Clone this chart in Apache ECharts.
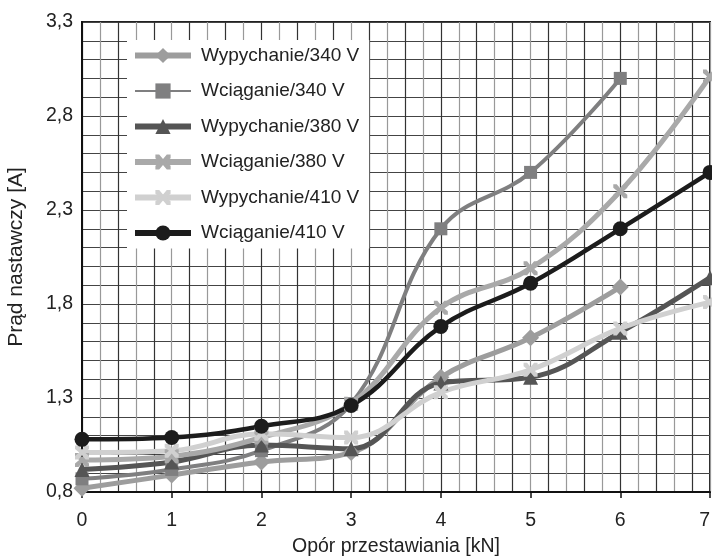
<!DOCTYPE html>
<html>
<head>
<meta charset="utf-8">
<script src="https://cdn.jsdelivr.net/npm/echarts@6/dist/echarts.min.js"></script>
<style>
html,body{margin:0;padding:0;background:#fff;}
#chart{width:712px;height:557px;}
</style>
</head>
<body>
<div id="chart"></div>
<script>
// opór przestawiania [kN]
var xVals = [0, 1, 2, 3, 4, 5, 6, 7];
var names = ['Wypychanie/340 V', 'Wciąganie/340 V', 'Wypychanie/380 V', 'Wciąganie/380 V', 'Wypychanie/410 V', 'Wciąganie/410 V'];
// prąd nastawczy [A]
var wyp340 = [0.82, 0.89, 0.96, 1.01, 1.41, 1.62, 1.89];
var wc340 = [0.87, 0.92, 1.02, 1.27, 2.20, 2.50, 3.00];
var wyp380 = [0.92, 0.96, 1.05, 1.03, 1.38, 1.41, 1.65, 1.94];
var wc380 = [0.97, 0.99, 1.09, 1.27, 1.78, 1.99, 2.40, 3.01];
var wyp410 = [1.01, 1.02, 1.11, 1.09, 1.33, 1.45, 1.67, 1.81];
var wc410 = [1.08, 1.09, 1.15, 1.26, 1.68, 1.91, 2.20, 2.50];

var xSym = 'path://M0,0 L2.5,0 L5,3 L7.5,0 L10,0 L10,2.5 L7,5 L10,7.5 L10,10 L7.5,10 L5,7 L2.5,10 L0,10 L0,7.5 L3,5 L0,2.5 Z';
var font = 'Liberation Sans';
var colors = ['#9d9d9d', '#7f7f80', '#555555', '#a9a9a9', '#d0d0d0', '#1c1c1c'];

function pairs(arr){
	var out = [];
	for(var i=0;i<arr.length;i++){
		out.push([xVals[i], arr[i]]);
	}
	return out;
}

function line(name, arr, color, width, symbol, size){
	return {
		name: name,
		type: 'line',
		smooth: 0.4,
		data: pairs(arr),
		symbol: symbol,
		symbolSize: size,
		lineStyle: { color: color, width: width },
		itemStyle: { color: color },
		z: 3
	};
}

function legendItem(i, w){
	return { name: names[i], lineStyle: { color: colors[i], width: w } };
}

var myChart = echarts.init(document.getElementById('chart'));
var option = {
	animation: false,
	backgroundColor: '#fff',
	grid: {
		left: 82, right: 2, top: 22, bottom: 65,
		outerBoundsMode: 'none', containLabel: false,
		show: true, borderColor: '#222', borderWidth: 2, backgroundColor: '#fff'
	},
	legend: {
		orient: 'vertical',
		left: 127, top: 40,
		backgroundColor: '#fff',
		padding: [6, 10, 6, 5],
		itemWidth: 56, itemHeight: 19, itemGap: 16.5,
		textStyle: { fontFamily: font, fontSize: 19, color: '#222', padding: [0, 0, 0, 5] },
		data: [
			legendItem(0, 6),
			legendItem(1, 2),
			legendItem(2, 6),
			legendItem(3, 6),
			legendItem(4, 6),
			legendItem(5, 6)
		]
	},
	xAxis: [{
		type: 'value', min: 0, max: 7, interval: 0.2,
		name: 'Opór przestawiania [kN]', nameLocation: 'middle', nameGap: 45,
		nameTextStyle: { fontFamily: font, fontSize: 19.5, color: '#222' },
		axisLine: { lineStyle: { color: '#111', width: 2 } },
		axisTick: { show: false },
		axisLabel: { show: false },
		splitLine: { show: true, lineStyle: { color: ['#333', '#999'], width: 1.2 } }
	}, {
		type: 'value', min: 0, max: 7, interval: 1, position: 'bottom',
		axisLine: { show: false },
		axisTick: { show: true, length: 6, lineStyle: { color: '#111', width: 1.5 } },
		axisLabel: { margin: 19, fontFamily: font, fontSize: 19.5, color: '#222', alignMaxLabel: 'right' },
		splitLine: { show: false }
	}],
	yAxis: {
		type: 'value', min: 0.8, max: 3.3, interval: 0.1,
		name: 'Prąd nastawczy [A]', nameLocation: 'middle', nameGap: 55,
		nameTextStyle: { fontFamily: font, fontSize: 21, color: '#222' },
		axisLine: { show: true, lineStyle: { color: '#111', width: 2 } },
		axisTick: { show: false },
		axisLabel: {
			margin: 9, fontFamily: font, fontSize: 19.5, color: '#222',
			formatter: function(v){
				var k = Math.round(v * 10);
				if(k % 5 !== 3) return '';
				return (k / 10).toFixed(1).replace('.', ',');
			}
		},
		splitLine: { show: true, lineStyle: { color: '#444', width: 1.2 } }
	},
	series: [
		line(names[0], wyp340, colors[0], 5, 'diamond', 17),
		line(names[1], wc340, colors[1], 4, 'rect', 13),
		line(names[2], wyp380, colors[2], 5, 'triangle', 15),
		line(names[3], wc380, colors[3], 5, xSym, 14),
		line(names[4], wyp410, colors[4], 5, xSym, 14),
		line(names[5], wc410, colors[5], 4.5, 'circle', 15)
	]
};
myChart.setOption(option);
</script>
</body>
</html>
